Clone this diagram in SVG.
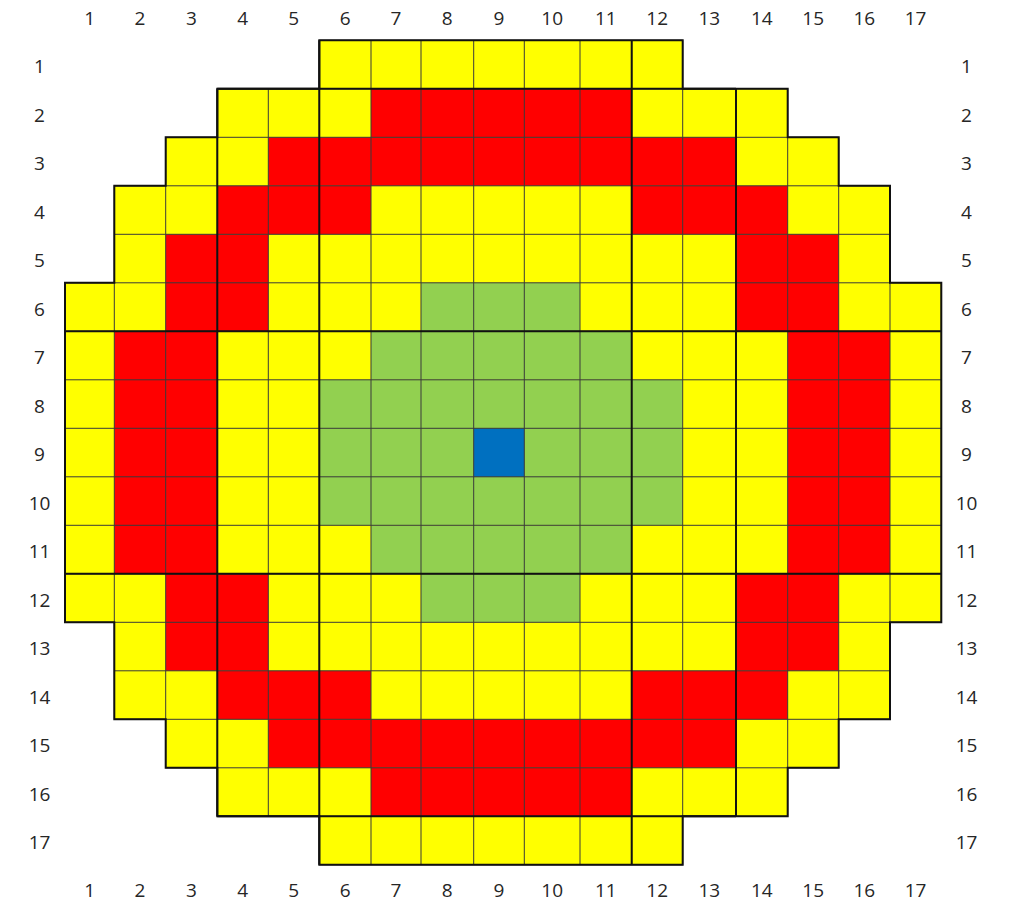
<svg xmlns="http://www.w3.org/2000/svg" width="1009" height="903" viewBox="0 0 1009 903">
<style>
.y{fill:#FFFF00}
.r{fill:#FF0000}
.g{fill:#92D050}
.b{fill:#0070C0}
.thin{fill:none;stroke:#3a3a3a;stroke-width:1}
.thick{fill:none;stroke:#111;stroke-width:2}
.lbl{font-family:"Open Sans","Liberation Sans",sans-serif;font-size:19px;fill:#262626;text-anchor:middle}
</style>
<rect x="0" y="0" width="1009" height="903" fill="#ffffff"/>
<g id="fills">
<polygon class="y" points="319.3,40.3 682.7,40.3 682.7,88.8 787.7,88.8 787.7,137.3 838.7,137.3 838.7,185.8 890,185.8 890,282.8 941.3,282.8 941.3,622.3 890,622.3 890,719.3 838.7,719.3 838.7,767.8 787.7,767.8 787.7,816.3 682.7,816.3 682.7,864.8 319.3,864.8 319.3,816.3 217.3,816.3 217.3,767.8 165.7,767.8 165.7,719.3 114.3,719.3 114.3,622.3 65,622.3 65,282.8 114.3,282.8 114.3,185.8 165.7,185.8 165.7,137.3 217.3,137.3 217.3,88.8 319.3,88.8"/>
<g id="red">
<rect class="r" x="371" y="88.8" width="260.7" height="48.5"/>
<rect class="r" x="268.3" y="137.3" width="467.7" height="48.5"/>
<rect class="r" x="217.3" y="185.8" width="153.7" height="48.5"/>
<rect class="r" x="631.7" y="185.8" width="156" height="48.5"/>
<rect class="r" x="165.7" y="234.3" width="102.6" height="97"/>
<rect class="r" x="736" y="234.3" width="102.7" height="97"/>
<rect class="r" x="114.3" y="331.3" width="103" height="242.5"/>
<rect class="r" x="787.7" y="331.3" width="102.3" height="242.5"/>
<rect class="r" x="165.7" y="573.8" width="102.6" height="97"/>
<rect class="r" x="736" y="573.8" width="102.7" height="97"/>
<rect class="r" x="217.3" y="670.8" width="153.7" height="48.5"/>
<rect class="r" x="631.7" y="670.8" width="156" height="48.5"/>
<rect class="r" x="268.3" y="719.3" width="467.7" height="48.5"/>
<rect class="r" x="371" y="767.8" width="260.7" height="48.5"/>
</g>
<g id="green">
<rect class="g" x="421" y="282.8" width="159" height="48.5"/>
<rect class="g" x="371" y="331.3" width="260.7" height="48.5"/>
<rect class="g" x="319.3" y="379.8" width="363.4" height="145.5"/>
<rect class="g" x="371" y="525.3" width="260.7" height="48.5"/>
<rect class="g" x="421" y="573.8" width="159" height="48.5"/>
</g>
<g id="center">
<rect class="b" x="473.7" y="428.3" width="50.6" height="48.5"/>
</g>
</g>
<g id="gridlines">
<path class="thin" d="M319.3 40.3H682.7M217.3 88.8H787.7M165.7 137.3H838.7M114.3 185.8H890M114.3 234.3H890M65 282.8H941.3M65 331.3H941.3M65 379.8H941.3M65 428.3H941.3M65 476.8H941.3M65 525.3H941.3M65 573.8H941.3M65 622.3H941.3M114.3 670.8H890M114.3 719.3H890M165.7 767.8H838.7M217.3 816.3H787.7M319.3 864.8H682.7
M65 282.8V622.3M114.3 185.8V719.3M165.7 137.3V767.8M217.3 88.8V816.3M268.3 88.8V816.3M319.3 40.3V864.8M371 40.3V864.8M421 40.3V864.8M473.7 40.3V864.8M524.3 40.3V864.8M580 40.3V864.8M631.7 40.3V864.8M682.7 40.3V864.8M736 88.8V816.3M787.7 88.8V816.3M838.7 137.3V767.8M890 185.8V719.3M941.3 282.8V622.3"/>
<path class="thick" d="M65 331.3H941.3M65 573.8H941.3M319.3 40.3V864.8M631.7 40.3V864.8M217.3 88.8V816.3M736 88.8V816.3M217.3 88.8H736M217.3 816.3H736"/>
<polygon class="thick" points="319.3,40.3 682.7,40.3 682.7,88.8 787.7,88.8 787.7,137.3 838.7,137.3 838.7,185.8 890,185.8 890,282.8 941.3,282.8 941.3,622.3 890,622.3 890,719.3 838.7,719.3 838.7,767.8 787.7,767.8 787.7,816.3 682.7,816.3 682.7,864.8 319.3,864.8 319.3,816.3 217.3,816.3 217.3,767.8 165.7,767.8 165.7,719.3 114.3,719.3 114.3,622.3 65,622.3 65,282.8 114.3,282.8 114.3,185.8 165.7,185.8 165.7,137.3 217.3,137.3 217.3,88.8 319.3,88.8"/>
</g>
<g id="labels-top">
<text class="lbl" x="89.6" y="25">1</text>
<text class="lbl" x="140" y="25">2</text>
<text class="lbl" x="191.5" y="25">3</text>
<text class="lbl" x="242.8" y="25">4</text>
<text class="lbl" x="293.8" y="25">5</text>
<text class="lbl" x="345.2" y="25">6</text>
<text class="lbl" x="396" y="25">7</text>
<text class="lbl" x="447.3" y="25">8</text>
<text class="lbl" x="499" y="25">9</text>
<text class="lbl" x="552.2" y="25">10</text>
<text class="lbl" x="605.8" y="25">11</text>
<text class="lbl" x="657.2" y="25">12</text>
<text class="lbl" x="709.3" y="25">13</text>
<text class="lbl" x="761.8" y="25">14</text>
<text class="lbl" x="813.2" y="25">15</text>
<text class="lbl" x="864.3" y="25">16</text>
<text class="lbl" x="915.6" y="25">17</text>
</g>
<g id="labels-bottom">
<text class="lbl" x="89.6" y="897">1</text>
<text class="lbl" x="140" y="897">2</text>
<text class="lbl" x="191.5" y="897">3</text>
<text class="lbl" x="242.8" y="897">4</text>
<text class="lbl" x="293.8" y="897">5</text>
<text class="lbl" x="345.2" y="897">6</text>
<text class="lbl" x="396" y="897">7</text>
<text class="lbl" x="447.3" y="897">8</text>
<text class="lbl" x="499" y="897">9</text>
<text class="lbl" x="552.2" y="897">10</text>
<text class="lbl" x="605.8" y="897">11</text>
<text class="lbl" x="657.2" y="897">12</text>
<text class="lbl" x="709.3" y="897">13</text>
<text class="lbl" x="761.8" y="897">14</text>
<text class="lbl" x="813.2" y="897">15</text>
<text class="lbl" x="864.3" y="897">16</text>
<text class="lbl" x="915.6" y="897">17</text>
</g>
<g id="labels-left">
<text class="lbl" x="39.5" y="73">1</text>
<text class="lbl" x="39.5" y="121.5">2</text>
<text class="lbl" x="39.5" y="170">3</text>
<text class="lbl" x="39.5" y="218.5">4</text>
<text class="lbl" x="39.5" y="267">5</text>
<text class="lbl" x="39.5" y="315.5">6</text>
<text class="lbl" x="39.5" y="364">7</text>
<text class="lbl" x="39.5" y="412.5">8</text>
<text class="lbl" x="39.5" y="461">9</text>
<text class="lbl" x="39.5" y="509.5">10</text>
<text class="lbl" x="39.5" y="558">11</text>
<text class="lbl" x="39.5" y="606.5">12</text>
<text class="lbl" x="39.5" y="655">13</text>
<text class="lbl" x="39.5" y="703.5">14</text>
<text class="lbl" x="39.5" y="752">15</text>
<text class="lbl" x="39.5" y="800.5">16</text>
<text class="lbl" x="39.5" y="849">17</text>
</g>
<g id="labels-right">
<text class="lbl" x="966.5" y="73">1</text>
<text class="lbl" x="966.5" y="121.5">2</text>
<text class="lbl" x="966.5" y="170">3</text>
<text class="lbl" x="966.5" y="218.5">4</text>
<text class="lbl" x="966.5" y="267">5</text>
<text class="lbl" x="966.5" y="315.5">6</text>
<text class="lbl" x="966.5" y="364">7</text>
<text class="lbl" x="966.5" y="412.5">8</text>
<text class="lbl" x="966.5" y="461">9</text>
<text class="lbl" x="966.5" y="509.5">10</text>
<text class="lbl" x="966.5" y="558">11</text>
<text class="lbl" x="966.5" y="606.5">12</text>
<text class="lbl" x="966.5" y="655">13</text>
<text class="lbl" x="966.5" y="703.5">14</text>
<text class="lbl" x="966.5" y="752">15</text>
<text class="lbl" x="966.5" y="800.5">16</text>
<text class="lbl" x="966.5" y="849">17</text>
</g>
</svg>
